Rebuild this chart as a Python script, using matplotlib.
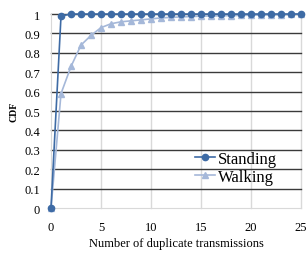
import matplotlib.pyplot as plt
import numpy as np

plt.rcParams['font.family'] = ['Liberation Serif', 'DejaVu Serif']

dup = list(range(0, 26))
standing = [0, 0.99] + [1.0] * 24
walking = [0, 0.59, 0.73, 0.84, 0.89, 0.93, 0.95, 0.96, 0.965, 0.97, 0.975,
           0.98, 0.983, 0.985, 0.987, 0.989, 0.99, 0.991, 0.992, 0.993,
           0.994, 0.995, 0.996, 0.997, 0.998, 1.0]

fig = plt.figure(figsize=(3.06, 2.55), dpi=100)
ax = fig.add_axes([0.1667, 0.180, 0.817, 0.761])

ax.plot(dup, walking, color="#a5b8d9", marker="^", markersize=4.5, lw=1.2,
        label="Walking", zorder=3)
ax.plot(dup, standing, color="#3e6ba5", marker="o", markersize=4.5, lw=1.2,
        label="Standing", zorder=4)

ax.set_xlim(0, 25)
ax.set_ylim(0, 1)
ax.set_xticks([0, 5, 10, 15, 20, 25])
ax.set_yticks(np.arange(0, 1.01, 0.1))
ax.set_yticklabels(["0", "0.1", "0.2", "0.3", "0.4", "0.5", "0.6", "0.7", "0.8", "0.9", "1"])

for y in np.arange(0.1, 1.01, 0.1):
    ax.axhline(y, color="#3a3a3a", lw=1.0, zorder=1)
for x in [5, 10, 15, 20, 25]:
    ax.axvline(x, color="#d9d9d9", lw=1.0, zorder=0)

for s in ["top", "right"]:
    ax.spines[s].set_visible(False)
for s in ["left", "bottom"]:
    ax.spines[s].set_color("#d9d9d9")
ax.tick_params(length=0, labelsize=9, pad=8)
ax.tick_params(axis="x", pad=9)

ax.set_xlabel("Number of duplicate transmissions", fontsize=9, labelpad=3)
ax.set_ylabel("CDF", fontsize=7, fontweight="bold", labelpad=4)

handles, labels = ax.get_legend_handles_labels()
ax.legend(handles[::-1], labels[::-1], loc="lower right", bbox_to_anchor=(0.93, 0.085),
          frameon=False, fontsize=12, handlelength=1.2, handletextpad=0.15,
          labelspacing=0.1, borderaxespad=0)

for line in ax.lines:
    line.set_clip_on(False)

fig.savefig("out.png", dpi=100)
